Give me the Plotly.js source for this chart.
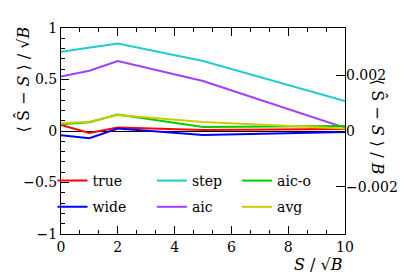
<!DOCTYPE html>
<html>
<head>
<meta charset="utf-8">
<script src="https://cdn.plot.ly/plotly-3.0.1.min.js"></script>
<style>html,body{margin:0;padding:0;background:#fff;}#chart{width:407px;height:277px;}</style>
</head>
<body>
<div id="chart"></div>
<script>
const xValues = [0, 1, 2, 5, 10];
const seriesNames = ["true", "wide", "step", "aic", "aic-o", "avg"];
const trueVals = [0.058, -0.02, 0.035, 0.01, 0.02];
const wideVals = [-0.04, -0.07, 0.025, -0.04, -0.01];
const stepVals = [0.77, 0.81, 0.85, 0.68, 0.29];
const aicVals = [0.53, 0.585, 0.68, 0.485, 0.03];
const aicoVals = [0.065, 0.085, 0.16, 0.04, 0.048];
const avgVals = [0.075, 0.09, 0.155, 0.087, 0.025];
const seriesColors = ["#ff0000", "#0000ff", "#22cccc", "#a040ff", "#00cc00", "#cccc00"];
const legendOf = ["legend", "legend", "legend2", "legend2", "legend3", "legend3"];
const allVals = [trueVals, wideVals, stepVals, aicVals, aicoVals, avgVals];
const leftTicks = [-1, -0.5, 0, 0.5, 1];
const rightTicks = [-0.002, 0, 0.002];
const xTicks = [0, 2, 4, 6, 8, 10];

const font = "DejaVu Serif";
const traces = seriesNames.map((n, i) => ({
  x: xValues, y: allVals[i], name: n, type: "scatter", mode: "lines",
  line: {color: seriesColors[i], width: 2},
  legend: legendOf[i], legendgroup: n
}));

const legendBase = {
  font: {family: font, size: 14, color: "#000"},
  bgcolor: "rgba(0,0,0,0)", borderwidth: 0,
  xanchor: "left", yanchor: "top", tracegroupgap: 5,
  itemwidth: 30
};

const layout = {
  width: 407, height: 277,
  margin: {l: 61, r: 62, t: 28, b: 43},
  paper_bgcolor: "#fff", plot_bgcolor: "#fff",
  showlegend: true,
  font: {family: font, size: 14, color: "#000"},
  xaxis: {
    range: [0, 10], tickvals: xTicks, ticks: "inside", ticklen: 8, tickwidth: 1, tickcolor: "#000",
    showline: true, linecolor: "#000", linewidth: 1, mirror: "ticks",
    showgrid: false, zeroline: false,
    minor: {dtick: 2/3, tick0: 0, ticklen: 4, ticks: "inside", tickcolor: "#000"},
    tickfont: {family: font, size: 14}
  },
  yaxis: {
    range: [-1, 1], tickvals: leftTicks, ticks: "inside", ticklen: 8, tickwidth: 1, tickcolor: "#000",
    showline: true, linecolor: "#000", linewidth: 1, mirror: true,
    showgrid: false, zeroline: true, zerolinecolor: "#000", zerolinewidth: 1,
    minor: {dtick: 0.1, tick0: 0, ticklen: 4, ticks: "inside", tickcolor: "#000"},
    tickfont: {family: font, size: 14}
  },
  yaxis2: {
    overlaying: "y", side: "right", range: [-0.00368, 0.00368],
    tickvals: rightTicks, ticktext: ["\u22120.002", "0", "0.002"],
    ticks: "inside", ticklen: 9, tickcolor: "#000", showline: false, showgrid: false, zeroline: false,
    tickfont: {family: font, size: 14}, anchor: "x"
  },
  legend: Object.assign({}, legendBase, {x: -0.03, y: 0.335}),
  legend2: Object.assign({}, legendBase, {x: 0.32, y: 0.335}),
  legend3: Object.assign({}, legendBase, {x: 0.62, y: 0.335}),
  annotations: [
    {text: "\u27E8 Ŝ \u2212 <i>S</i> \u27E9 / \u221A<i>B</i>", xref: "paper", yref: "paper",
     x: -0.134, y: 0.75, textangle: -90, showarrow: false, xanchor: "center", yanchor: "middle",
     font: {family: font, size: 16}},
    {text: "\u27E8 Ŝ \u2212 <i>S</i> \u27E9 / <i>B</i>", xref: "paper", yref: "paper",
     x: 1.116, y: 0.52, textangle: 90, showarrow: false, xanchor: "center", yanchor: "middle",
     font: {family: font, size: 16}},
    {text: "<i>S</i> / \u221A<i>B</i>", xref: "paper", yref: "paper",
     x: 1.0, y: -0.15, showarrow: false, xanchor: "right", yanchor: "middle",
     font: {family: font, size: 16}}
  ]
};

traces.push({x: [], y: [], yaxis: "y2", showlegend: false, hoverinfo: "skip", type: "scatter"});
Plotly.newPlot("chart", traces, layout, {displayModeBar: false, staticPlot: true});
</script>
</body>
</html>
